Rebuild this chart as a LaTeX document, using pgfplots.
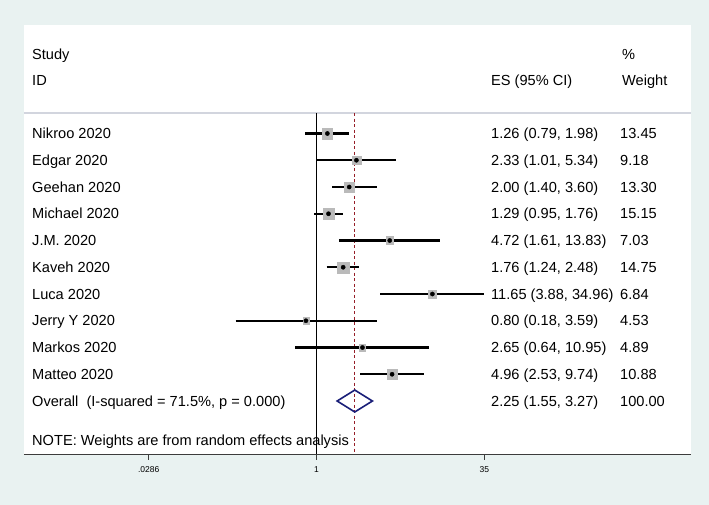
\documentclass[border=0pt]{standalone}
\usepackage{fontspec}
\setmainfont{Liberation Sans}
\usepackage{pgfplots}
\usepackage{pgfplotstable}
\pgfplotsset{compat=1.18}

\definecolor{bgcol}{RGB}{233,242,241}
\definecolor{boxgray}{RGB}{186,186,186}
\definecolor{refred}{RGB}{150,30,40}
\definecolor{dnavy}{RGB}{25,30,120}
\definecolor{hdrgray}{RGB}{210,213,222}
\definecolor{axgray}{RGB}{60,60,60}

\newcommand{\rowfont}{\fontsize{14.6bp}{17bp}\selectfont}

% row: position from top, es: effect size, lo/hi: 95% CI, w: weight (%)
\pgfplotstableread{
row es    lo   hi    w
1   1.26  0.79 1.98  13.45
2   2.33  1.01 5.34  9.18
3   2.00  1.40 3.60  13.30
4   1.29  0.95 1.76  15.15
5   4.72  1.61 13.83 7.03
6   1.76  1.24 2.48  14.75
7   11.65 3.88 34.96 6.84
8   0.80  0.18 3.59  4.53
9   2.65  0.64 10.95 4.89
10  4.96  2.53 9.74  10.88
}\studies

\begin{document}
\begin{tikzpicture}
\fill[bgcol] (0,0) rectangle (709bp,505bp);
\begin{axis}[
    at={(24bp,51bp)}, anchor=south west,
    scale only axis, width=667bp, height=429bp,
    xmode=log, xmin=0.00204, xmax=2787,
    ymin=-3.056, ymax=12.981, y dir=reverse,
    axis x line*=bottom, axis y line=none,
    axis background/.style={fill=white},
    xtick={0.0286,1,35}, xticklabels={.0286,1,35},
    xminorticks=false,
    xtick align=inside, major tick length=-6bp,
    x axis line style={draw=axgray, line width=0.9bp, -},
    xtick style={draw=axgray, line width=0.9bp},
    xticklabel style={font=\fontsize{8.5bp}{10bp}\selectfont, inner sep=2bp, yshift=-10bp},
    clip=false,
]
% header rule, null line and pooled estimate line
\addplot[hdrgray, line width=2bp] coordinates {(0.00204,0.234) (2787,0.234)};
\addplot[black, line width=0.9bp] coordinates {(1,0.234) (1,12.981)};
\addplot[refred, line width=1bp, dash pattern=on 3bp off 2.5bp] coordinates {(2.25,0.234) (2.25,12.981)};

% weight boxes
\addplot[scatter, only marks, mark=square*,
    scatter/use mapped color={draw=boxgray, fill=boxgray},
    visualization depends on={1.45*sqrt(\thisrow{w}) \as \msz},
    scatter/@pre marker code/.append style={/tikz/mark size=\msz}]
    table[x=es, y=row] {\studies};

% confidence intervals
\addplot[black, line width=2.1bp] coordinates {(0.79,1) (1.98,1)};
\addplot[black, line width=2.1bp] coordinates {(1.01,2) (5.34,2)};
\addplot[black, line width=2.1bp] coordinates {(1.40,3) (3.60,3)};
\addplot[black, line width=2.1bp] coordinates {(0.95,4) (1.76,4)};
\addplot[black, line width=2.1bp] coordinates {(1.61,5) (13.83,5)};
\addplot[black, line width=2.1bp] coordinates {(1.24,6) (2.48,6)};
\addplot[black, line width=2.1bp] coordinates {(3.88,7) (34.96,7)};
\addplot[black, line width=2.1bp] coordinates {(0.18,8) (3.59,8)};
\addplot[black, line width=2.1bp] coordinates {(0.64,9) (10.95,9)};
\addplot[black, line width=2.1bp] coordinates {(2.53,10) (9.74,10)};

% point estimates
\addplot[only marks, mark=*, mark size=2.1bp, black] table[x=es, y=row] {\studies};

% overall diamond
\addplot[dnavy, line width=1.6bp, line join=miter]
    coordinates {(1.55,11) (2.25,10.59) (3.27,11) (2.25,11.41)} -- cycle;
\end{axis}

\begin{scope}[every node/.style={anchor=base west, inner sep=0pt, font=\rowfont}]
\node at (32bp,445.5bp) {Study};
\node at (32bp,419bp) {ID};
\node at (491bp,419bp) {ES (95\% CI)};
\node at (622bp,445.5bp) {\%};
\node at (622bp,419bp) {Weight};
\foreach \r/\nm/\es/\wt in {
    1/{Nikroo 2020}/{1.26 (0.79, 1.98)}/13.45,
    2/{Edgar 2020}/{2.33 (1.01, 5.34)}/9.18,
    3/{Geehan 2020}/{2.00 (1.40, 3.60)}/13.30,
    4/{Michael 2020}/{1.29 (0.95, 1.76)}/15.15,
    5/{J.M. 2020}/{4.72 (1.61, 13.83)}/7.03,
    6/{Kaveh 2020}/{1.76 (1.24, 2.48)}/14.75,
    7/{Luca 2020}/{11.65 (3.88, 34.96)}/6.84,
    8/{Jerry Y 2020}/{0.80 (0.18, 3.59)}/4.53,
    9/{Markos 2020}/{2.65 (0.64, 10.95)}/4.89,
    10/{Matteo 2020}/{4.96 (2.53, 9.74)}/10.88,
    11/{Overall\ \ (I-squared = 71.5\%, p = 0.000)}/{2.25 (1.55, 3.27)}/100.00}{
  \node at (32bp,{(366.3-26.75*(\r-1))*1bp}) {\nm};
  \node at (491bp,{(366.3-26.75*(\r-1))*1bp}) {\es};
  \node at (620bp,{(366.3-26.75*(\r-1))*1bp}) {\wt};
}
\node at (32bp,59.5bp) {NOTE: Weights are from random effects analysis};
\end{scope}
\end{tikzpicture}
\end{document}
